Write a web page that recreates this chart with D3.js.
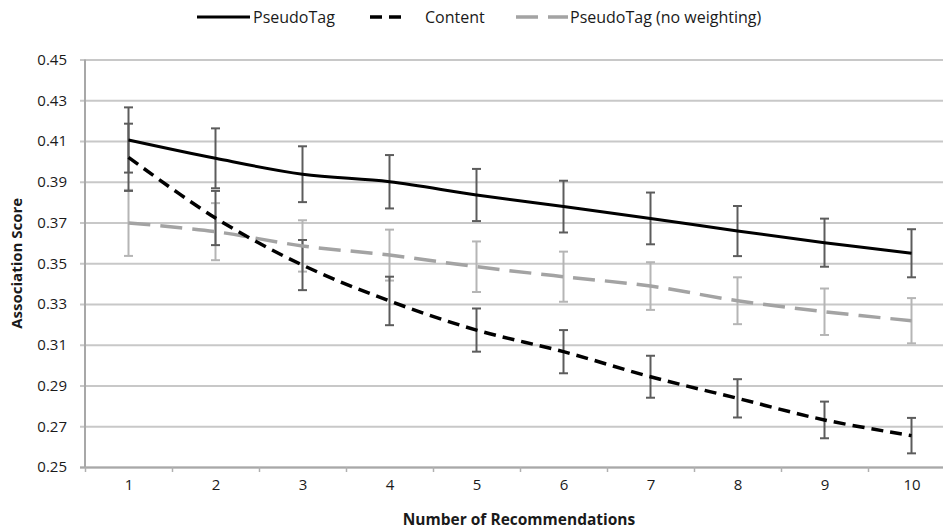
<!DOCTYPE html>
<html>
<head>
<meta charset="utf-8">
<script src="https://cdn.jsdelivr.net/npm/d3@7"></script>
<style>
  html, body { margin: 0; padding: 0; background: #fff; }
  svg { display: block; }
  text { font-family: "Open Sans", sans-serif; fill: #1a1a1a; }
</style>
</head>
<body>
<svg id="chart" width="943" height="529"></svg>
<script>
// Recommendation counts on the x axis
const recommendations = [1, 2, 3, 4, 5, 6, 7, 8, 9, 10];

// Mean association score per series
const pseudoTag      = [0.4105, 0.4015, 0.3937, 0.3900, 0.3835, 0.3778, 0.3720, 0.3658, 0.3601, 0.3549];
const content        = [0.4020, 0.3722, 0.3491, 0.3315, 0.3172, 0.3066, 0.2943, 0.2837, 0.2731, 0.2654];
const pseudoTagNoWt  = [0.3698, 0.3655, 0.3585, 0.3540, 0.3483, 0.3434, 0.3388, 0.3316, 0.3262, 0.3218];

// Error bar half-widths per series
const pseudoTagErr     = [0.0160, 0.0147, 0.0137, 0.0131, 0.0128, 0.0127, 0.0127, 0.0123, 0.0118, 0.0118];
const contentErr       = [0.0165, 0.0133, 0.0123, 0.0119, 0.0106, 0.0106, 0.0103, 0.0094, 0.0090, 0.0087];
const pseudoTagNoWtErr = [0.0162, 0.0140, 0.0126, 0.0125, 0.0124, 0.0123, 0.0117, 0.0115, 0.0114, 0.0111];

// Y axis tick labels
const yTicks = [0.25, 0.27, 0.29, 0.31, 0.33, 0.35, 0.37, 0.39, 0.41, 0.43, 0.45];

const seriesNames = ["PseudoTag", "Content", "PseudoTag (no weighting)"];

const series = [
  { name: seriesNames[0], values: pseudoTag, err: pseudoTagErr,
    color: "#000", width: 3, dash: null, barColor: "#5c5c5c", curve: d3.curveCatmullRom.alpha(0.5) },
  { name: seriesNames[1], values: content, err: contentErr,
    color: "#000", width: 3.5, dash: "12,7", barColor: "#5c5c5c", curve: d3.curveCatmullRom.alpha(0.5) },
  { name: seriesNames[2], values: pseudoTagNoWt, err: pseudoTagNoWtErr,
    color: "#a3a3a3", width: 3.5, dash: "22,10", barColor: "#b5b5b5", curve: d3.curveCatmullRom.alpha(0.5) }
];

const svg = d3.select("#chart");
const plot = { left: 85, right: 955, top: 59.5, bottom: 467 };

const x = d3.scaleLinear().domain([0.5, 10.5]).range([plot.left, plot.right]);
const y = d3.scaleLinear().domain([0.25, 0.45]).range([plot.bottom, plot.top]);

// Horizontal gridlines (extending 5px left of the axis as tick marks)
const grid = svg.append("g")
  .attr("transform", `translate(${plot.left - 5},0)`)
  .call(d3.axisLeft(y).tickValues(yTicks).tickSize(-(plot.right - plot.left + 5)).tickFormat(""));
grid.select(".domain").remove();
grid.selectAll(".tick line").attr("stroke", "#c8c8c8").attr("stroke-width", 2);

// Y axis labels
const yAxis = svg.append("g")
  .attr("transform", `translate(${plot.left},0)`)
  .call(d3.axisLeft(y).tickValues(yTicks).tickSize(0).tickPadding(18).tickFormat(d3.format(".2f")));
yAxis.select(".domain").remove();
yAxis.selectAll("text").style("font-size", "15px").style("font-family", "'Open Sans', sans-serif").attr("fill", "#1a1a1a");

// Vertical axis line
svg.append("line")
  .attr("x1", plot.left).attr("x2", plot.left)
  .attr("y1", y(0.45)).attr("y2", plot.bottom + 1)
  .attr("stroke", "#a8a8a8").attr("stroke-width", 2);

// X axis: boundary ticks between categories
const xTicks = svg.append("g")
  .attr("transform", `translate(0,${plot.bottom})`)
  .call(d3.axisBottom(x).tickValues(d3.range(0.5, 11, 1)).tickSize(5).tickFormat(""));
xTicks.select(".domain").attr("stroke", "#a8a8a8").attr("stroke-width", 2)
  .attr("d", `M${plot.left - 5},0.5H${plot.right}`);
xTicks.selectAll(".tick line").attr("stroke", "#b0b0b0").attr("stroke-width", 1.5);

// X axis category labels
const xAxis = svg.append("g")
  .attr("transform", `translate(0,${plot.bottom})`)
  .call(d3.axisBottom(x).tickValues(recommendations).tickSize(0).tickPadding(12).tickFormat(d3.format("d")));
xAxis.select(".domain").remove();
xAxis.selectAll("text").style("font-size", "15px").style("font-family", "'Open Sans', sans-serif").attr("fill", "#1a1a1a");

// Axis titles
svg.append("text")
  .attr("x", 519).attr("y", 525)
  .attr("text-anchor", "middle")
  .style("font-size", "15.5px").style("font-weight", "bold")
  .text("Number of Recommendations");

svg.append("text")
  .attr("transform", `translate(22,${(plot.top + plot.bottom) / 2}) rotate(-90)`)
  .attr("text-anchor", "middle")
  .style("font-size", "15px").style("font-weight", "bold")
  .text("Association Score");

// Error bars
const barOrder = [series[2], series[0], series[1]];
barOrder.forEach(s => {
  const g = svg.append("g").attr("stroke", s.barColor).attr("stroke-width", 2).attr("fill", "none");
  recommendations.forEach((r, i) => {
    const cx = x(r), top = y(s.values[i] + s.err[i]), bot = y(s.values[i] - s.err[i]);
    g.append("line").attr("x1", cx).attr("x2", cx).attr("y1", top).attr("y2", bot);
    g.append("line").attr("x1", cx - 4.5).attr("x2", cx + 4.5).attr("y1", top).attr("y2", top);
    g.append("line").attr("x1", cx - 4.5).attr("x2", cx + 4.5).attr("y1", bot).attr("y2", bot);
  });
});

// Series lines
const lineOrder = [series[2], series[1], series[0]];
lineOrder.forEach(s => {
  const line = d3.line().x((d, i) => x(recommendations[i])).y(d => y(d)).curve(s.curve);
  svg.append("path")
    .datum(s.values)
    .attr("d", line)
    .attr("fill", "none")
    .attr("stroke", s.color)
    .attr("stroke-width", s.width)
    .attr("stroke-dasharray", s.dash);
});

// Legend
const legendItems = [
  { s: series[0], x0: 197, x1: 250, tx: 253 },
  { s: series[1], x0: 370, x1: 408, tx: 425 },
  { s: series[2], x0: 516, x1: 568, tx: 570 }
];
legendItems.forEach(item => {
  svg.append("line")
    .attr("x1", item.x0).attr("x2", item.x1).attr("y1", 17).attr("y2", 17)
    .attr("stroke", item.s.color).attr("stroke-width", item.s.width)
    .attr("stroke-dasharray", item.s.dash);
  svg.append("text")
    .attr("x", item.tx).attr("y", 23)
    .style("font-size", "16px")
    .text(item.s.name);
});
</script>
</body>
</html>
